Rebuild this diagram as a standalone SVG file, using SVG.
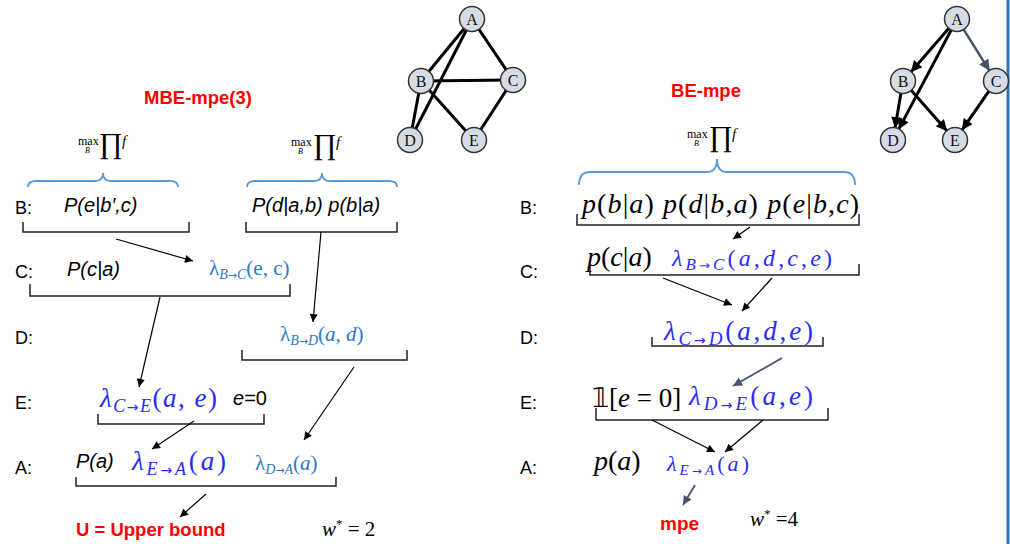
<svg xmlns="http://www.w3.org/2000/svg" width="1010" height="544" viewBox="0 0 1010 544">
<style>
.lbl{font-family:"Liberation Sans",Arial,sans-serif;font-size:18px;fill:#000}
.red{font-family:"Liberation Sans",Arial,sans-serif;font-weight:bold;fill:#f00}
.it{font-family:"Liberation Sans",Arial,sans-serif;font-style:italic;font-size:20px;fill:#000}
.tex{font-family:"Liberation Serif","Times New Roman",serif;fill:#000}
.ti{font-style:italic}
.arw{font-family:"DejaVu Sans",sans-serif;font-style:normal}
.lb{fill:#2a7ac6}
.db{fill:#2b2bff}
.brk{fill:none;stroke:#222;stroke-width:1.5}
.brace{fill:none;stroke:#5b9bd5;stroke-width:1.8}
.ar{stroke:#000;stroke-width:1.2;fill:none;marker-end:url(#ah)}
.arg{stroke:#44546a;stroke-width:1.8;fill:none;marker-end:url(#ahg)}
.ge{stroke:#000;stroke-width:3;fill:none}
.gea{stroke:#000;stroke-width:3;fill:none;marker-end:url(#ahb)}
.node circle{fill:#d6dce5;stroke:#333;stroke-width:1.5}
.node text{font-family:"Liberation Serif","Times New Roman",serif;font-size:16px;fill:#111;text-anchor:middle}
</style>
<defs>
<marker id="ah" viewBox="0 0 10 10" refX="10" refY="5" markerWidth="9" markerHeight="8" orient="auto" markerUnits="userSpaceOnUse"><path d="M0,0 L10,5 L0,10 z" fill="#000"/></marker>
<marker id="ahg" viewBox="0 0 10 10" refX="10" refY="5" markerWidth="10" markerHeight="9" orient="auto" markerUnits="userSpaceOnUse"><path d="M0,0 L10,5 L0,10 z" fill="#44546a"/></marker>
<marker id="ahb" viewBox="0 0 10 10" refX="10" refY="5" markerWidth="12" markerHeight="11" orient="auto" markerUnits="userSpaceOnUse"><path d="M0,0 L10,5 L0,10 z" fill="#000"/></marker>
<marker id="ahbg" viewBox="0 0 10 10" refX="10" refY="5" markerWidth="12" markerHeight="11" orient="auto" markerUnits="userSpaceOnUse"><path d="M0,0 L10,5 L0,10 z" fill="#44546a"/></marker>
</defs>
<rect width="1010" height="544" fill="#fff"/>
<line x1="1008" y1="0" x2="1008" y2="544" stroke="#2e75b6" stroke-width="3"/>

<!-- left graph -->
<g id="graph-left-edges">
<line class="ge" x1="472" y1="19" x2="421" y2="81"/>
<line class="ge" x1="472" y1="19" x2="410" y2="140"/>
<line class="ge" x1="472" y1="19" x2="513" y2="80"/>
<line class="ge" x1="421" y1="81" x2="513" y2="80"/>
<line class="ge" x1="421" y1="81" x2="410" y2="140"/>
<line class="ge" x1="421" y1="81" x2="474" y2="140"/>
<line class="ge" x1="513" y1="80" x2="474" y2="140"/>
</g>
<g id="L-A" class="node"><circle cx="472" cy="19" r="12.5"/><text x="472" y="25">A</text></g>
<g id="L-B" class="node"><circle cx="421" cy="81" r="12.5"/><text x="421" y="87">B</text></g>
<g id="L-C" class="node"><circle cx="513" cy="80" r="12.5"/><text x="513" y="86">C</text></g>
<g id="L-D" class="node"><circle cx="410" cy="140" r="12.5"/><text x="410" y="146">D</text></g>
<g id="L-E" class="node"><circle cx="474" cy="140" r="12.5"/><text x="474" y="146">E</text></g>

<!-- right graph -->
<g id="graph-right-edges">
<line class="gea" x1="949.1" y1="28.1" x2="910.9" y2="72"/>
<line class="gea" x1="951.4" y1="29.6" x2="898.6" y2="129.4"/>
<line x1="963.4" y1="29.2" x2="989.6" y2="70.8" stroke="#44546a" stroke-width="2.5" marker-end="url(#ahbg)"/>
<line class="gea" x1="901" y1="92.8" x2="895" y2="128.2"/>
<line class="gea" x1="910.9" y1="90" x2="947.1" y2="131"/>
<line class="gea" x1="989.1" y1="90.9" x2="961.9" y2="130.1"/>
</g>
<g id="R-A" class="node"><circle cx="957" cy="19" r="12.5"/><text x="957" y="25">A</text></g>
<g id="R-B" class="node"><circle cx="903" cy="81" r="12.5"/><text x="903" y="87">B</text></g>
<g id="R-C" class="node"><circle cx="996" cy="81" r="12.5"/><text x="996" y="87">C</text></g>
<g id="R-D" class="node"><circle cx="893" cy="140" r="12.5"/><text x="893" y="146">D</text></g>
<g id="R-E" class="node"><circle cx="955" cy="140" r="12.5"/><text x="955" y="146">E</text></g>

<!-- titles -->
<text class="red" x="198" y="104" font-size="18.5" text-anchor="middle">MBE-mpe(3)</text>
<text class="red" x="706" y="97" font-size="18.5" text-anchor="middle">BE-mpe</text>

<!-- max prod f -->
<g id="maxprod">
<text class="tex" x="78" y="145" font-size="12">max</text><text class="tex ti" x="85" y="153" font-size="8">B</text><text class="tex" x="99" y="153" font-size="29" font-family="DejaVu Serif">∏</text><text class="tex ti" x="122" y="146" font-size="15">f</text>
<text class="tex" x="291" y="146" font-size="12">max</text><text class="tex ti" x="298" y="154" font-size="8">B</text><text class="tex" x="313" y="154" font-size="29" font-family="DejaVu Serif">∏</text><text class="tex ti" x="336" y="147" font-size="15">f</text>
<text class="tex" x="687" y="138" font-size="12">max</text><text class="tex ti" x="694" y="146" font-size="8">B</text><text class="tex" x="709" y="146" font-size="29" font-family="DejaVu Serif">∏</text><text class="tex ti" x="732" y="139" font-size="15">f</text>
</g>

<!-- braces -->
<path class="brace" d="M28,187 Q28,181 36,181 H95 Q103,181 103,173 Q103,181 111,181 H170 Q178,181 178,187"/>
<path class="brace" d="M247,187 Q247,181 255,181 H314 Q322,181 322,173 Q322,181 330,181 H389 Q397,181 397,187"/>
<path class="brace" d="M579,185 Q579,172 590,172 H707 Q717,172 717,159 Q717,172 727,172 H844 Q855,172 855,185"/>

<!-- row labels -->
<g id="row-labels">
<text class="lbl" x="15" y="214">B:</text>
<text class="lbl" x="15" y="278">C:</text>
<text class="lbl" x="15" y="344">D:</text>
<text class="lbl" x="15" y="409">E:</text>
<text class="lbl" x="15" y="474">A:</text>
<text class="lbl" x="520" y="214">B:</text>
<text class="lbl" x="520" y="278">C:</text>
<text class="lbl" x="520" y="344">D:</text>
<text class="lbl" x="520" y="409">E:</text>
<text class="lbl" x="520" y="474">A:</text>
</g>

<!-- left bucket contents -->
<g id="left-buckets">
<text class="it" x="64" y="212">P(e|b′,c)</text>
<text class="it" x="252" y="212">P(d|a,b) p(b|a)</text>
<text class="it" x="67" y="276">P(c|a)</text>
<text class="tex lb" x="209" y="275" font-size="21">λ<tspan class="ti" font-size="14" dy="4">B<tspan class="arw" font-size="11">→</tspan>C</tspan><tspan dy="-4">(e, c)</tspan></text>
<text class="tex lb" x="280" y="341" font-size="21">λ<tspan class="ti" font-size="14" dy="4">B<tspan class="arw" font-size="11">→</tspan>D</tspan><tspan dy="-4">(</tspan><tspan class="ti">a</tspan>, <tspan class="ti">d</tspan>)</text>
<text class="tex db" x="100" y="407" font-size="27" textLength="117"><tspan class="ti">λ</tspan><tspan class="ti" font-size="18" dy="5">C<tspan class="arw" font-size="14">→</tspan>E</tspan><tspan dy="-5">(</tspan><tspan class="ti">a</tspan>, <tspan class="ti">e</tspan>)</text>
<text class="it" x="233" y="405">e<tspan font-style="normal">=0</tspan></text>
<text class="it" x="76" y="468">P(a)</text>
<text class="tex db" x="132" y="470" font-size="27" textLength="94"><tspan class="ti">λ</tspan><tspan class="ti" font-size="18" dy="5">E<tspan class="arw" font-size="14">→</tspan>A</tspan><tspan dy="-5">(</tspan><tspan class="ti">a</tspan>)</text>
<text class="tex lb" x="255" y="470" font-size="21">λ<tspan class="ti" font-size="14" dy="4">D<tspan class="arw" font-size="11">→</tspan>A</tspan><tspan dy="-4">(</tspan><tspan class="ti">a</tspan>)</text>
<text class="red" x="76" y="536" font-size="18.5">U = Upper bound</text>
<text class="tex" x="322" y="536" font-size="21"><tspan class="ti">w</tspan><tspan font-size="13" dy="-8">*</tspan><tspan dy="8"> = 2</tspan></text>
</g>

<!-- right bucket contents -->
<g id="right-buckets">
<text class="tex" x="582" y="213" font-size="28" textLength="277"><tspan class="ti">p</tspan>(<tspan class="ti">b</tspan>|<tspan class="ti">a</tspan>) <tspan class="ti">p</tspan>(<tspan class="ti">d</tspan>|<tspan class="ti">b</tspan>,<tspan class="ti">a</tspan>) <tspan class="ti">p</tspan>(<tspan class="ti">e</tspan>|<tspan class="ti">b</tspan>,<tspan class="ti">c</tspan>)</text>
<text class="tex" x="587" y="266" font-size="28"><tspan class="ti">p</tspan>(<tspan class="ti">c</tspan>|<tspan class="ti">a</tspan>)</text>
<text class="tex db" x="672" y="266" font-size="24" textLength="160"><tspan class="ti">λ</tspan><tspan class="ti" font-size="17" dy="4">B<tspan class="arw" font-size="13">→</tspan>C</tspan><tspan dy="-4">(</tspan><tspan class="ti">a</tspan>,<tspan class="ti">d</tspan>,<tspan class="ti">c</tspan>,<tspan class="ti">e</tspan>)</text>
<text class="tex db" x="664" y="340" font-size="27" textLength="149"><tspan class="ti">λ</tspan><tspan class="ti" font-size="19" dy="5">C<tspan class="arw" font-size="14">→</tspan>D</tspan><tspan dy="-5">(</tspan><tspan class="ti">a</tspan>,<tspan class="ti">d</tspan>,<tspan class="ti">e</tspan>)</text>
<text class="tex" x="592" y="407" font-size="27">𝟙[<tspan class="ti">e</tspan> = 0]</text>
<text class="tex db" x="689" y="405" font-size="27" textLength="124"><tspan class="ti">λ</tspan><tspan class="ti" font-size="19" dy="5">D<tspan class="arw" font-size="14">→</tspan>E</tspan><tspan dy="-5">(</tspan><tspan class="ti">a</tspan>,<tspan class="ti">e</tspan>)</text>
<text class="tex" x="594" y="470" font-size="28"><tspan class="ti">p</tspan>(<tspan class="ti">a</tspan>)</text>
<text class="tex db" x="667" y="471" font-size="22" textLength="82"><tspan class="ti">λ</tspan><tspan class="ti" font-size="15" dy="4">E<tspan class="arw" font-size="12">→</tspan>A</tspan><tspan dy="-4">(</tspan><tspan class="ti">a</tspan>)</text>
<text class="red" x="660" y="530" font-size="19">mpe</text>
<text class="tex" x="750" y="526" font-size="21"><tspan class="ti">w</tspan><tspan font-size="13" dy="-8">*</tspan><tspan dy="8"> =4</tspan></text>
</g>

<!-- brackets -->
<g id="brackets">
<path class="brk" d="M23,222 V232 H189 V222"/>
<path class="brk" d="M246,222 V232 H397 V222"/>
<path class="brk" d="M30,284 V296 H290 V284"/>
<path class="brk" d="M242,350 V360 H407 V350"/>
<path class="brk" d="M98,414 V424 H264 V414"/>
<path class="brk" d="M76,477 V486 H336 V477"/>
<path class="brk" d="M577,214 V225 H859 V214"/>
<path class="brk" d="M590,264 V275 H859 V264"/>
<path class="brk" d="M652,337 V346 H823 V337"/>
<path class="brk" d="M596,408 V420 H828 V408"/>
</g>

<!-- connectors -->
<g id="connectors">
<line class="ar" x1="116" y1="239" x2="193" y2="261"/>
<line class="ar" x1="321" y1="232" x2="313" y2="322"/>
<line class="ar" x1="160" y1="297" x2="139" y2="387"/>
<line class="ar" x1="354" y1="367" x2="304" y2="440"/>
<line class="ar" x1="194" y1="421" x2="152" y2="449"/>
<line class="ar" x1="206" y1="494" x2="180" y2="517"/>
<line class="ar" x1="750" y1="227" x2="733" y2="239"/>
<line class="ar" x1="663" y1="278" x2="732" y2="305"/>
<line class="ar" x1="772" y1="278" x2="742" y2="311"/>
<line class="arg" x1="782" y1="358" x2="733" y2="386"/>
<line class="ar" x1="652" y1="420" x2="715" y2="452"/>
<line class="ar" x1="763" y1="420" x2="725" y2="452"/>
<line class="arg" x1="695" y1="485" x2="683" y2="505"/>
</g>
</svg>
